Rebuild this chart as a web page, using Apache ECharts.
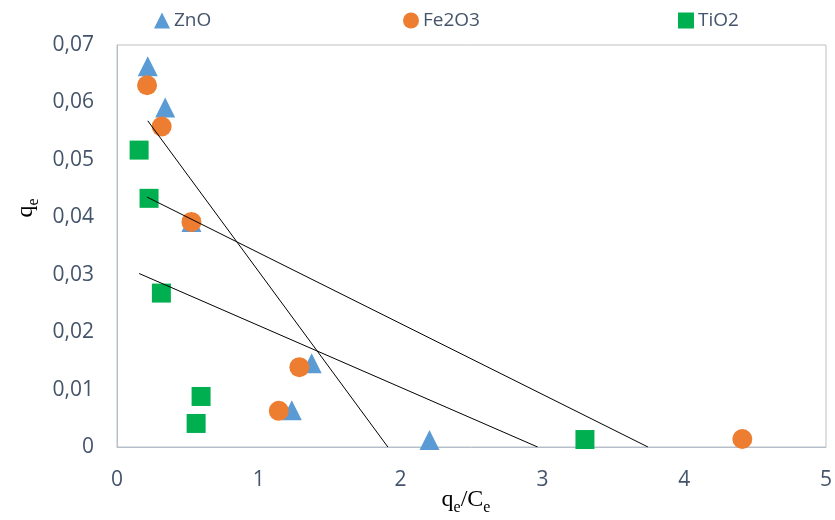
<!DOCTYPE html>
<html>
<head>
<meta charset="utf-8">
<script src="https://cdn.jsdelivr.net/npm/echarts@6/dist/echarts.min.js"></script>
<style>html,body{margin:0;padding:0;background:#fff}#c{width:835px;height:520px}</style>
</head>
<body>
<div id="c"></div>
<script>
// Data
const seriesNames = ['ZnO', 'Fe2O3', 'TiO2'];
const znoX = [0.217, 0.340, 0.525, 1.373, 1.233, 2.204];
const znoY = [0.0663, 0.0591, 0.0392, 0.0146, 0.0064, 0.0012];
const fe2o3X = [0.212, 0.315, 0.525, 1.286, 1.141, 4.410];
const fe2o3Y = [0.0630, 0.0558, 0.0392, 0.0139, 0.0063, 0.0014];
const tio2X = [0.156, 0.226, 0.313, 0.593, 0.558, 3.300];
const tio2Y = [0.0517, 0.0433, 0.0268, 0.0088, 0.0041, 0.0013];
const xTicks = [0, 1, 2, 3, 4, 5];
const yTicks = [0, 0.01, 0.02, 0.03, 0.04, 0.05, 0.06, 0.07];

const colors = ['#5B9BD5', '#ED7D31', '#00B050'];
const symbols = ['triangle', 'circle', 'rect'];
const labelColor = '#44546A';
const uiFont = '"Open Sans", "DejaVu Sans", sans-serif';
const serif = '"Liberation Serif", "DejaVu Serif", serif';

function pairs(xs, ys) { return xs.map((x, i) => [x, ys[i]]); }

// linear least-squares trend line, spanning the series' x range
function trend(xs, ys) {
  const n = xs.length;
  const mx = xs.reduce((a, b) => a + b, 0) / n;
  const my = ys.reduce((a, b) => a + b, 0) / n;
  let sxy = 0, sxx = 0;
  for (let i = 0; i < n; i++) { sxy += (xs[i] - mx) * (ys[i] - my); sxx += (xs[i] - mx) ** 2; }
  const m = sxy / sxx, b = my - m * mx;
  const x0 = Math.min(...xs);
  let x1 = Math.max(...xs);
  const xz = -b / m;
  if (m < 0 && xz < x1) x1 = xz; // Excel clips at the axis minimum
  return [[x0, m * x0 + b], [x1, m * x1 + b]];
}

const sets = [[znoX, znoY], [fe2o3X, fe2o3Y], [tio2X, tio2Y]];
const series = [];
sets.forEach((s, i) => {
  series.push({
    name: seriesNames[i], type: 'scatter', data: pairs(s[0], s[1]),
    symbol: symbols[i], symbolSize: i === 2 ? 19 : 20,
    itemStyle: { color: colors[i], opacity: 1 }, z: 2 + i
  });
});
sets.forEach((s, i) => {
  series.push({
    name: seriesNames[i] + ' trend', type: 'line', data: trend(s[0], s[1]),
    symbol: 'none', clip: true, lineStyle: { color: '#000', width: 1 }, z: 10,
    silent: true
  });
});

const legendLefts = [149, 398, 673];
const legends = seriesNames.map((n, i) => ({
  data: [{ name: n, icon: symbols[i] }], left: legendLefts[i], top: 6,
  itemWidth: 16, itemHeight: 16, itemGap: 0,
  textStyle: { color: labelColor, fontSize: 19, fontFamily: uiFont, padding: [0, 0, 0, -1] }
}));

const subRich = {
  a: { fontFamily: serif, fontSize: 24, color: '#000', lineHeight: 28, verticalAlign: 'bottom' },
  b: { fontFamily: serif, fontSize: 16, color: '#000', lineHeight: 20, verticalAlign: 'bottom', padding: [0, 0, -4, 0] }
};

const chart = echarts.init(document.getElementById('c'));
chart.setOption({
  animation: false,
  backgroundColor: '#fff',
  legend: legends,
  grid: { left: 117, right: 4, top: 45, bottom: 73, show: true, borderColor: '#C0C0C0', borderWidth: 1, containLabel: false },
  xAxis: {
    type: 'value', min: xTicks[0], max: xTicks[xTicks.length - 1], interval: 1,
    splitLine: { show: false }, axisTick: { show: false },
    axisLine: { show: true, onZero: false, lineStyle: { color: '#B4BFCE', width: 1 } },
    axisLabel: { color: labelColor, fontSize: 21, fontFamily: uiFont, margin: 23 }
  },
  yAxis: {
    type: 'value', min: yTicks[0], max: yTicks[yTicks.length - 1], interval: 0.01,
    splitLine: { show: false }, axisTick: { show: false },
    axisLine: { show: true, lineStyle: { color: '#B4BFCE', width: 1 } },
    axisLabel: {
      color: labelColor, fontSize: 21, fontFamily: uiFont, margin: 23,
      formatter: v => (Math.abs(v) < 1e-9 ? '0' : v.toFixed(2).replace('.', ','))
    },
    name: '{a|q}{b|e}', nameLocation: 'middle', nameRotate: 90, nameGap: 78,
    nameTextStyle: { rich: subRich, padding: [0, 0, 0, 76] }
  },
  graphic: [
    {
      type: 'text', x: 466, y: 498, z: 100,
      style: {
        text: '{a|q}{b|e}{a|/C}{b|e}', align: 'center', verticalAlign: 'middle',
        rich: {
          a: { fontFamily: serif, fontSize: 24, fill: '#000', lineHeight: 28, verticalAlign: 'bottom' },
          b: { fontFamily: serif, fontSize: 16, fill: '#000', lineHeight: 20, verticalAlign: 'bottom', padding: [0, 0, -4, 0] }
        }
      }
    }
  ],
  series: series
});
</script>
</body>
</html>
